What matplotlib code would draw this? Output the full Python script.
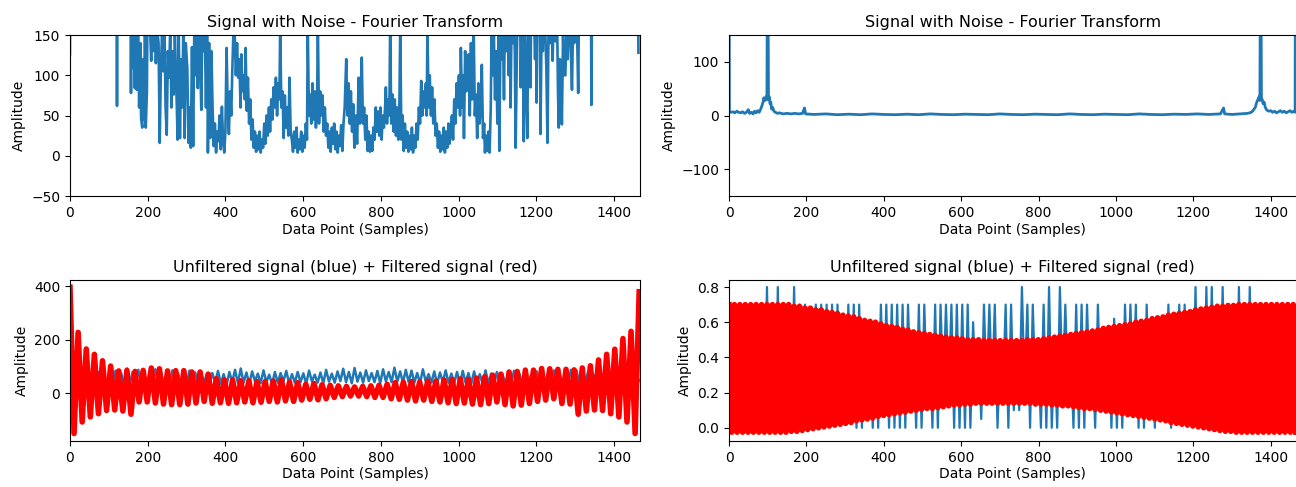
import numpy as np
import matplotlib
matplotlib.use("Agg")
import matplotlib.pyplot as plt

N_SAMPLES = 1467

# Fourier transform of the noisy signal: (sample, magnitude)
tl_points = [
    (0, 126), (2, 400), (118, 380), (121, 62), (124, 380), (155, 300), (157, 78), (159, 260),
    (162, 109), (164, 210), (167, 84), (169, 250), (172, 82), (175, 190), (178, 60), (181, 140),
    (183, 47), (186, 35), (188, 120), (191, 45), (193, 160), (195, 35), (198, 80), (200, 220),
    (203, 170), (206, 160), (209, 118), (212, 200), (215, 130), (218, 175), (221, 115), (224, 160),
    (228, 140), (231, 16), (234, 111), (237, 150), (240, 105), (243, 170), (246, 60), (249, 26),
    (252, 130), (255, 97), (258, 160), (261, 60), (264, 130), (267, 76), (270, 150), (273, 100),
    (277, 20), (280, 150), (283, 22), (286, 120), (289, 60), (292, 170), (295, 22), (298, 140),
    (302, 109), (305, 16), (308, 60), (311, 10), (314, 135), (317, 12), (320, 160), (323, 100),
    (326, 200), (329, 84), (332, 170), (335, 120), (338, 57), (341, 190), (344, 130), (347, 160),
    (350, 60), (353, 180), (355, 4), (358, 140), (361, 22), (364, 130), (367, 60), (370, 12),
    (373, 40), (376, 4), (379, 30), (382, 18), (385, 50), (388, 8), (391, 61), (394, 20),
    (397, 4), (400, 30), (403, 134), (406, 60), (409, 27), (412, 80), (415, 50), (418, 110),
    (421, 160), (424, 150), (427, 100), (430, 140), (433, 97), (436, 120), (439, 60), (441, 126),
    (444, 80), (447, 100), (450, 70), (452, 134), (455, 56), (458, 97), (461, 40), (464, 70),
    (467, 20), (470, 45), (473, 10), (476, 30), (479, 5), (482, 25), (485, 8), (488, 30),
    (491, 4), (494, 20), (497, 10), (500, 40), (503, 15), (506, 50), (509, 25), (512, 60),
    (515, 30), (518, 70), (521, 45), (524, 85), (527, 60), (530, 97), (533, 50), (536, 90),
    (539, 70), (541, 160), (544, 60), (547, 80), (550, 22), (553, 75), (556, 35), (559, 60),
    (562, 25), (565, 97), (568, 30), (571, 20), (574, 5), (577, 30), (580, 10), (583, 35),
    (586, 4), (589, 20), (592, 8), (595, 30), (598, 5), (601, 25), (604, 10), (607, 40),
    (610, 20), (612, 160), (615, 50), (618, 76), (621, 40), (624, 90), (627, 45), (630, 80),
    (633, 35), (636, 70), (638, 160), (641, 40), (644, 80), (647, 50), (650, 75), (653, 30),
    (656, 60), (659, 25), (662, 40), (665, 10), (668, 30), (671, 5), (674, 35), (677, 15),
    (680, 40), (683, 8), (686, 30), (689, 4), (692, 25), (695, 12), (698, 38), (701, 6),
    (704, 40), (707, 60), (711, 120), (714, 50), (717, 90), (720, 40), (723, 80), (726, 30),
    (729, 64), (732, 10), (735, 50), (739, 15), (743, 97), (746, 40), (749, 70), (751, 122),
    (754, 40), (757, 60), (760, 20), (763, 50), (766, 6), (769, 30), (772, 5), (775, 25),
    (778, 6), (781, 35), (784, 20), (787, 60), (790, 30), (793, 55), (796, 25), (799, 60),
    (802, 20), (805, 50), (808, 35), (811, 60), (813, 85), (816, 40), (819, 70), (822, 50),
    (824, 160), (827, 40), (830, 76), (833, 30), (836, 70), (839, 25), (842, 60), (845, 20),
    (848, 70), (850, 160), (853, 20), (856, 50), (859, 6), (862, 40), (865, 10), (868, 30),
    (871, 5), (874, 25), (877, 8), (880, 35), (883, 4), (886, 25), (889, 10), (892, 40),
    (895, 20), (898, 60), (901, 40), (904, 93), (907, 50), (910, 80), (913, 60), (916, 90),
    (918, 50), (920, 160), (923, 60), (926, 100), (929, 50), (932, 85), (935, 40), (938, 70),
    (941, 25), (944, 40), (947, 10), (950, 30), (953, 5), (956, 25), (959, 8), (962, 35),
    (965, 4), (968, 30), (971, 10), (974, 40), (977, 15), (980, 30), (983, 50), (986, 20),
    (989, 70), (992, 40), (995, 90), (998, 60), (1001, 100), (1004, 50), (1006, 134), (1009, 60),
    (1012, 100), (1014, 22), (1017, 130), (1020, 80), (1023, 110), (1026, 126), (1029, 50), (1032, 140),
    (1035, 70), (1039, 160), (1042, 50), (1045, 76), (1048, 22), (1051, 90), (1054, 40), (1057, 60),
    (1060, 113), (1063, 22), (1066, 40), (1068, 4), (1071, 25), (1074, 6), (1077, 30), (1080, 4),
    (1083, 60), (1085, 160), (1088, 100), (1091, 150), (1094, 70), (1097, 130), (1100, 40), (1103, 160),
    (1105, 6), (1108, 150), (1111, 120), (1114, 170), (1117, 70), (1120, 200), (1123, 130), (1126, 180),
    (1129, 100), (1132, 170), (1134, 60), (1137, 190), (1140, 140), (1143, 170), (1145, 124), (1147, 10),
    (1150, 120), (1153, 200), (1156, 150), (1158, 240), (1160, 85), (1163, 170), (1166, 120), (1168, 18),
    (1171, 150), (1174, 100), (1177, 22), (1180, 200), (1183, 170), (1185, 85), (1188, 220), (1191, 160),
    (1194, 180), (1197, 120), (1200, 200), (1201, 66), (1204, 190), (1207, 150), (1210, 240), (1211, 27),
    (1214, 170), (1217, 130), (1220, 200), (1223, 160), (1226, 110), (1229, 16), (1232, 180), (1235, 140),
    (1238, 200), (1242, 118), (1245, 170), (1248, 160), (1250, 142), (1253, 200), (1256, 80), (1258, 35),
    (1261, 120), (1264, 90), (1266, 39), (1269, 150), (1272, 100), (1275, 100), (1278, 160), (1281, 120),
    (1285, 190), (1288, 150), (1292, 82), (1295, 170), (1298, 140), (1302, 200), (1305, 160), (1308, 78),
    (1311, 240), (1340, 330), (1342, 63), (1345, 330), (1460, 360), (1463, 128),
]

# Fourier transform after filtering: (sample, magnitude)
tr_points = [
    (0, 420), (1, 8), (5, 6), (10, 7), (15, 5), (20, 8), (25, 6), (30, 5), (35, 7), (40, 4),
    (45, 6), (50, 11), (53, 4), (58, 6), (62, 3), (66, 8), (70, 5), (74, 9), (78, 6), (82, 12),
    (85, 18), (88, 25), (90, 33), (93, 28), (96, 35), (98, 30), (100, 420), (102, 30), (104, 35),
    (106, 22), (108, 25), (110, 12), (113, 15), (116, 8), (120, 6), (125, 4), (130, 5), (140, 3),
    (150, 4), (160, 3), (170, 4), (180, 3), (190, 4), (195, 14), (198, 3), (220, 2), (250, 3),
    (280, 1.5), (310, 2.5), (340, 1.5), (370, 3), (400, 2), (430, 1.5), (460, 2.5), (490, 1.5),
    (520, 3), (550, 2), (580, 1.5), (610, 2.5), (640, 2), (670, 1.5), (700, 3), (730, 2),
    (760, 1.5), (790, 2.5), (820, 2), (850, 1.5), (880, 3), (910, 2), (940, 1.5), (970, 2.5),
    (1000, 2), (1030, 1.5), (1060, 3), (1090, 2), (1120, 1.5), (1150, 2.5), (1180, 2), (1210, 3),
    (1240, 2), (1270, 3), (1278, 14), (1281, 3), (1300, 2), (1320, 3), (1340, 4), (1350, 6),
    (1355, 10), (1360, 15), (1364, 25), (1367, 30), (1370, 35), (1372, 28), (1374, 420), (1376, 32),
    (1378, 30), (1380, 22), (1383, 25), (1386, 15), (1390, 10), (1395, 8), (1400, 9), (1405, 6),
    (1410, 8), (1415, 5), (1420, 7), (1425, 9), (1430, 6), (1435, 8), (1440, 5), (1445, 7),
    (1450, 9), (1455, 6), (1460, 8), (1463, 6), (1464, 420),
]

# Time domain, first signal: alternating peak / trough values
bl_blue = [
    45, 20, 70, 25, 60, 30, 75, 22, 65, 35, 80, 28, 70, 30, 60, 25, 85, 32, 75, 30,
    93, 35, 80, 30, 88, 40, 72, 30, 85, 35, 90, 38, 78, 30, 82, 35, 86, 40, 75, 32,
    80, 35, 85, 40, 78, 30, 82, 38, 70, 32, 76, 40, 84, 36, 72, 30, 80, 42, 88, 38,
    93, 40, 78, 35, 82, 45, 74, 38, 86, 42, 70, 35, 80, 40, 76, 45, 84, 38, 72, 40,
    80, 42, 75, 36, 85, 45, 70, 40, 78, 38, 88, 44, 74, 40, 82, 46, 92, 42, 80, 38,
    95, 44, 78, 40, 86, 46, 76, 42, 84, 38, 90, 45, 80, 42, 96, 44, 82, 40, 88, 42,
    85, 40, 76, 38, 90, 44, 72, 40, 82, 36, 78, 42, 86, 40, 74, 38, 80, 35, 84, 40,
    76, 36, 82, 40, 72, 35, 86, 38, 74, 34, 80, 38, 70, 32, 78, 36, 84, 35, 72, 30,
    78, 32, 70, 28, 82, 34, 74, 30, 80, 35, 86, 32, 76, 30, 82, 34, 88, 30, 86, 28,
    75, 30, 80, 25, 70, 32, 78, 28, 65, 30, 72, 25, 80, 30, 68, 22, 75, 28, 60, 30,
    50,
]
bl_red_peaks = [
    397, 228, 166, 146, 122, 102, 84, 86, 82, 86, 95, 92, 84, 85, 85, 80, 80, 72,
    55, 50, 50, 47, 47, 44, 44, 46, 50, 42, 40, 34, 37, 32, 30, 28, 26, 24, 26, 28,
    30, 34, 40, 42, 44, 42, 46, 46, 50, 52, 54, 52, 57, 62, 68, 72, 80, 82, 87, 87,
    93, 92, 90, 90, 88, 95, 103, 125, 146, 165, 205, 232, 380,
]
bl_red_troughs = [
    -150, -107, -88, -76, -64, -62, -66, -78, -32, -32, -36, -40, -42, -42, -40, -36,
    -30, -37, -35, -37, -35, -32, -35, -33, -30, -32, -28, -30, -25, -22, -24, -20,
    -15, -12, -10, -10, -12, -15, -15, -20, -22, -25, -28, -25, -30, -32, -35, -38,
    -36, -40, -42, -38, -32, -42, -47, -44, -38, -30, -25, -20, -38, -40, -78, -66,
    -62, -64, -76, -88, -107, -150,
]

# Time domain, second signal: peak / trough values per cycle
br_red_top = [
    0.70, 0.70, 0.70, 0.70, 0.70, 0.70, 0.70, 0.70, 0.70, 0.70,
    0.70, 0.70, 0.69, 0.69, 0.68, 0.68, 0.67, 0.67, 0.66, 0.655,
    0.65, 0.64, 0.635, 0.63, 0.62, 0.61, 0.605, 0.60, 0.59, 0.58,
    0.575, 0.57, 0.56, 0.555, 0.545, 0.54, 0.535, 0.53, 0.525, 0.52,
    0.515, 0.51, 0.51, 0.505, 0.50, 0.50, 0.50, 0.495, 0.495, 0.495,
    0.495, 0.495, 0.495, 0.495, 0.495, 0.50, 0.50, 0.50, 0.505, 0.51,
    0.515, 0.52, 0.525, 0.53, 0.535, 0.54, 0.545, 0.55, 0.555, 0.565,
    0.57, 0.575, 0.58, 0.585, 0.59, 0.60, 0.605, 0.61, 0.62, 0.625,
    0.63, 0.64, 0.645, 0.65, 0.655, 0.66, 0.67, 0.675, 0.68, 0.685,
    0.69, 0.69, 0.695, 0.695, 0.70, 0.70, 0.70, 0.70, 0.70, 0.70,
    0.70, 0.70, 0.70, 0.70, 0.70,
]
br_red_bottom = [
    -0.025, -0.025, -0.025, -0.025, -0.025, -0.025, -0.025, -0.025, -0.025, -0.025,
    -0.025, -0.02, -0.02, -0.015, -0.01, -0.005, 0.0, 0.005, 0.01, 0.015,
    0.02, 0.025, 0.03, 0.04, 0.045, 0.05, 0.055, 0.065, 0.07, 0.075,
    0.08, 0.085, 0.09, 0.095, 0.10, 0.105, 0.11, 0.11, 0.115, 0.12,
    0.125, 0.13, 0.13, 0.135, 0.135, 0.14, 0.14, 0.14, 0.14, 0.14,
    0.14, 0.14, 0.14, 0.14, 0.14, 0.14, 0.135, 0.135, 0.135, 0.13,
    0.13, 0.125, 0.125, 0.12, 0.115, 0.11, 0.11, 0.105, 0.10, 0.095,
    0.09, 0.085, 0.08, 0.075, 0.07, 0.065, 0.06, 0.055, 0.05, 0.045,
    0.04, 0.03, 0.025, 0.02, 0.015, 0.01, 0.005, 0.0, -0.005, -0.01,
    -0.015, -0.02, -0.02, -0.025, -0.025, -0.025, -0.025, -0.025, -0.025, -0.025,
    -0.025, -0.025, -0.025, -0.025, -0.025,
]
br_blue_top = [
    0.7, 0.7, 0.7, 0.7, 0.7, 0.7, 0.7, 0.8, 0.7, 0.8,
    0.7, 0.7, 0.8, 0.7, 0.7, 0.65, 0.7, 0.7, 0.7, 0.7,
    0.7, 0.6, 0.7, 0.7, 0.7, 0.55, 0.55, 0.55, 0.7, 0.7,
    0.7, 0.7, 0.7, 0.7, 0.5, 0.7, 0.7, 0.5, 0.7, 0.7,
    0.7, 0.7, 0.7, 0.7, 0.7, 0.6, 0.45, 0.7, 0.7, 0.7,
    0.45, 0.7, 0.7, 0.45, 0.8, 0.7, 0.7, 0.45, 0.7, 0.8,
    0.45, 0.8, 0.7, 0.45, 0.7, 0.7, 0.7, 0.45, 0.7, 0.5,
    0.5, 0.62, 0.5, 0.7, 0.7, 0.7, 0.55, 0.7, 0.55, 0.6,
    0.6, 0.7, 0.6, 0.7, 0.7, 0.65, 0.8, 0.68, 0.8, 0.8,
    0.7, 0.8, 0.7, 0.7, 0.8, 0.7, 0.8, 0.7, 0.7, 0.7,
    0.7, 0.7, 0.7, 0.7, 0.7,
]
br_blue_bottom = [
    0.0, 0.0, 0.0, 0.0, 0.0, 0.0, 0.0, 0.0, 0.0, 0.0,
    0.0, 0.0, 0.0, 0.0, 0.05, 0.05, 0.05, 0.05, 0.05, 0.05,
    0.1, 0.1, 0.15, 0.0, 0.0, 0.15, 0.0, 0.0, 0.15, 0.0,
    0.0, 0.0, 0.0, 0.2, 0.0, 0.0, 0.2, 0.0, 0.0, 0.2,
    0.2, 0.0, 0.0, 0.0, 0.0, 0.2, 0.05, 0.2, 0.2, 0.0,
    0.2, 0.0, 0.1, 0.1, 0.2, 0.0, 0.2, 0.0, 0.0, 0.0,
    0.0, 0.2, 0.2, 0.0, 0.0, 0.0, 0.2, 0.0, 0.2, 0.2,
    0.0, 0.0, 0.0, 0.2, 0.2, 0.0, 0.0, 0.15, 0.0, 0.1,
    0.1, 0.0, 0.1, 0.05, 0.05, 0.05, 0.0, 0.0, 0.0, 0.0,
    0.0, 0.0, 0.0, 0.0, 0.0, 0.0, 0.0, 0.0, 0.0, 0.0,
    0.0, 0.0, 0.0, 0.0, 0.0,
]


def interleave(peaks, troughs):
    out = np.empty(len(peaks) + len(troughs))
    out[0::2] = peaks
    out[1::2] = troughs
    return out


tl_x, tl_y = zip(*tl_points)
tr_x, tr_y = zip(*tr_points)
bl_red = interleave(bl_red_peaks, bl_red_troughs)
br_red = interleave(br_red_top, br_red_bottom)
br_blue = interleave(br_blue_top, br_blue_bottom)

bl_blue_x = np.linspace(0, 1465, len(bl_blue))
bl_red_x = np.linspace(0, 1465, len(bl_red))
br_x = np.linspace(0, 1465, len(br_red))

fig = plt.figure(figsize=(12.96, 4.87), dpi=100)
ax_tl = fig.add_axes([0.054, 0.5975, 0.4398, 0.3306])
ax_tr = fig.add_axes([0.5625, 0.5975, 0.438, 0.3306])
ax_bl = fig.add_axes([0.054, 0.0945, 0.4398, 0.3306])
ax_br = fig.add_axes([0.5625, 0.0945, 0.438, 0.3306])

blue = '#1f77b4'

ax_tl.plot(tl_x, tl_y, color=blue, lw=1.9)
ax_tl.set_ylim(-50, 150)
ax_tl.set_yticks([-50, 0, 50, 100, 150])
ax_tl.set_title('Signal with Noise - Fourier Transform', fontsize=11.5)

ax_tr.plot(tr_x, tr_y, color=blue, lw=2.0)
ax_tr.set_ylim(-150, 150)
ax_tr.set_yticks([-100, 0, 100])
ax_tr.set_title('Signal with Noise - Fourier Transform', fontsize=11.5)

ax_bl.plot(bl_blue_x, bl_blue, color=blue, lw=1.8)
ax_bl.plot(bl_red_x, bl_red, color='red', lw=4.0)
ax_bl.set_ylim(-178, 424)
ax_bl.set_yticks([0, 200, 400])
ax_bl.set_title('Unfiltered signal (blue) + Filtered signal (red)', fontsize=11.5)

ax_br.plot(br_x, br_blue, color=blue, lw=1.6)
ax_br.plot(br_x, br_red, color='red', lw=4.0)
ax_br.set_ylim(-0.075, 0.84)
ax_br.set_yticks([0.0, 0.2, 0.4, 0.6, 0.8])
ax_br.set_title('Unfiltered signal (blue) + Filtered signal (red)', fontsize=11.5)

for ax in (ax_tl, ax_tr, ax_bl, ax_br):
    ax.set_xlim(0, N_SAMPLES)
    ax.set_xticks(range(0, 1401, 200))
    ax.set_xlabel('Data Point (Samples)', fontsize=10, labelpad=2)
    ax.set_ylabel('Amplitude', fontsize=10)
    ax.tick_params(labelsize=10)

fig.savefig('out.png', dpi=100)
